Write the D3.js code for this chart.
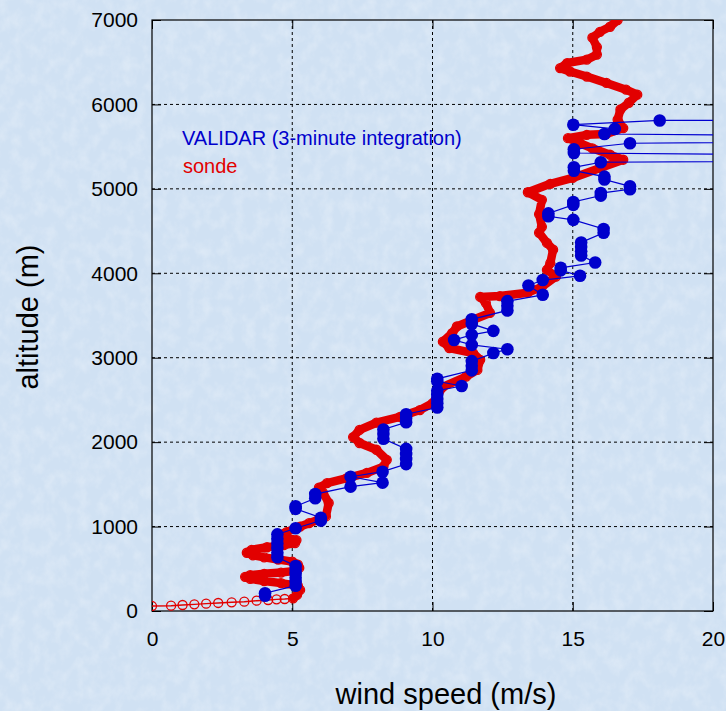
<!DOCTYPE html>
<html>
<head>
<meta charset="utf-8">
<script src="https://cdn.jsdelivr.net/npm/d3@7"></script>
<style>
body{margin:0;background:#d4e4f4;}
text{font-family:"Liberation Sans",Arial,sans-serif;}
</style>
</head>
<body>
<div id="chart-area"></div>
<script>
// sonde profile (wind speed m/s, altitude m)
var sondeSpeed=[0,0.68,1.09,1.51,1.93,2.36,2.84,3.29,3.73,4.14,4.44,4.73,5.03,
  5.17,5.28,5.2,4.6,4.0,3.5,3.32,3.5,4.0,4.6,5.1,5.25,5.2,5.0,4.5,4.0,3.6,3.38,3.55,4.1,4.7,5.1,5.15,4.8,4.5,4.8,
  5.28,5.6,5.93,6.2,6.3,6.1,5.95,6.24,6.95,7.66,8.25,8.37,8.0,7.4,7.17,7.4,8.0,8.84,9.55,10.0,10.15,10.37,
  11.2,11.6,11.7,11.45,10.6,10.37,10.7,10.87,11.45,12.05,11.9,11.7,12.4,13.4,13.9,14.4,14.08,14.2,14.3,14.08,
  13.8,13.9,13.8,13.9,13.4,14.2,15.0,16.0,16.8,16.33,15.7,15.26,14.83,15.5,16.2,16.8,16.6,16.7,17.0,17.3,
  16.9,16.2,15.5,14.9,14.55,14.8,15.5,15.86,15.86,15.7,15.97,16.33,16.6];
var sondeAlt=[59,63,71,79,87,95,103,110,122,130,138,142,150,
  190,250,300,330,355,380,405,425,440,455,475,510,550,585,610,635,660,690,725,755,780,805,840,870,900,935,
  1000,1040,1080,1120,1280,1400,1460,1515,1575,1635,1710,1790,1910,1990,2060,2145,2230,2300,2380,2460,2535,2655,
  2775,2855,2975,3055,3115,3190,3290,3370,3450,3530,3650,3720,3730,3770,3840,3960,4040,4120,4280,4360,
  4480,4550,4700,4870,4960,5060,5130,5250,5345,5404,5480,5540,5600,5640,5650,5720,5820,5940,6020,6115,
  6175,6255,6330,6390,6430,6490,6530,6590,6680,6790,6860,6920,7000];

// VALIDAR 3-minute integration (40 = off the chart)
var validarSpeed=[4.03,4.03,5.12,5.12,5.12,5.12,5.12,5.12,4.47,4.47,4.47,4.47,4.47,4.47,5.12,6.02,6.02,5.12,5.12,
  5.82,5.82,7.08,8.22,7.08,8.22,9.06,9.06,9.06,9.06,8.25,8.25,8.25,9.06,9.06,9.06,10.17,10.17,10.17,10.17,10.17,
  11.04,10.17,10.17,11.4,11.4,11.4,12.17,12.67,11.4,10.77,11.4,12.17,11.4,11.4,12.67,12.67,12.67,13.93,13.42,13.93,
  15.26,14.57,14.57,15.8,15.3,15.3,15.3,15.3,16.1,16.1,15.02,14.13,14.13,15.02,15.02,16.0,16.0,17.04,17.04,
  16.13,16.13,15.04,15.04,16.0,40,15.04,15.04,17.04,40,16.13,16.5,15.02,18.1,40];
var validarAlt=[180,210,300,345,395,440,490,533,636,690,745,800,855,908,980,1070,1105,1210,1240,
  1335,1385,1473,1520,1590,1650,1740,1800,1860,1920,2040,2095,2150,2235,2285,2330,2410,2460,2510,2560,2610,
  2665,2720,2750,2850,2905,2960,3055,3100,3152,3210,3270,3318,3400,3455,3560,3615,3670,3745,3855,3920,
  3970,4035,4065,4127,4210,4260,4310,4365,4480,4525,4633,4675,4710,4810,4845,4920,4950,4995,5030,
  5110,5145,5215,5255,5315,5360,5425,5470,5540,5590,5650,5710,5760,5810,5815];

var xTicks=[0,5,10,15,20];
var yTicks=[0,1000,2000,3000,4000,5000,6000,7000];

var margin={top:20,left:152,right:13,bottom:100};
var width=726-margin.left-margin.right;
var height=611-margin.top;

var svg=d3.select("#chart-area").append("svg").attr("width",726).attr("height",711);

//textured background
var defs=svg.append("defs");
var f=defs.append("filter").attr("id","tex").attr("x",0).attr("y",0).attr("width","100%").attr("height","100%");
f.append("feTurbulence").attr("type","fractalNoise").attr("baseFrequency","0.09 0.07").attr("numOctaves",3).attr("seed",11);
f.append("feColorMatrix").attr("type","matrix")
 .attr("values","0 0 0 0 1  0 0 0 0 1  0 0 0 0 1  1.4 0 0 0 -0.55");
defs.append("clipPath").attr("id","clip").append("rect").attr("width",width).attr("height",height);

svg.append("rect").attr("width",726).attr("height",711).attr("fill","#d0e1f3");
svg.append("rect").attr("width",726).attr("height",711).attr("filter","url(#tex)").attr("opacity",0.35);

var g=svg.append("g").attr("transform","translate("+margin.left+","+margin.top+")");

var x=d3.scaleLinear().domain([0,20]).range([0,width]);
var y=d3.scaleLinear().domain([0,7000]).range([height,0]);

//grid
g.selectAll(".gx").data(xTicks.slice(1,-1)).enter().append("line")
 .attr("x1",d=>x(d)).attr("x2",d=>x(d)).attr("y1",0).attr("y2",height)
 .attr("stroke","#000").attr("stroke-width",1).attr("stroke-dasharray","3,3");
g.selectAll(".gy").data(yTicks.slice(1,-1)).enter().append("line")
 .attr("y1",d=>y(d)).attr("y2",d=>y(d)).attr("x1",0).attr("x2",width)
 .attr("stroke","#000").attr("stroke-width",1).attr("stroke-dasharray","3,3");

//axes
var xAxisCall=d3.axisBottom(x).tickValues(xTicks).tickSizeInner(-9).tickSizeOuter(0).tickPadding(20).tickFormat(d3.format("d"));
var yAxisCall=d3.axisLeft(y).tickValues(yTicks).tickSizeInner(-9).tickSizeOuter(0).tickPadding(14).tickFormat(d3.format("d"));
g.append("g").attr("transform","translate(0,"+height+")").call(xAxisCall);
g.append("g").call(yAxisCall);
g.append("g").call(d3.axisTop(x).tickValues(xTicks).tickSizeInner(-9).tickSizeOuter(0).tickFormat(""));
g.append("g").attr("transform","translate("+width+",0)")
 .call(d3.axisRight(y).tickValues(yTicks).tickSizeInner(-9).tickSizeOuter(0).tickFormat(""));
g.selectAll(".domain").remove();
g.selectAll(".tick line").attr("stroke","#000");
g.selectAll(".tick text").style("font-size","21px").attr("fill","#000");

g.append("rect").attr("width",width).attr("height",height)
 .attr("fill","none").attr("stroke","#000").attr("stroke-width",1.2);

//sonde
var sonde=sondeSpeed.map((d,i)=>[d,sondeAlt[i]]);
var line=d3.line().x(d=>x(d[0])).y(d=>y(d[1]));
var plot=g.append("g").attr("clip-path","url(#clip)");
plot.append("path").attr("d",line(sonde)).attr("fill","none")
 .attr("stroke","#e20000").attr("stroke-width",1.4);
plot.append("path").attr("d",line(sonde.filter(d=>d[1]>=150))).attr("fill","none")
 .attr("stroke","#e20000").attr("stroke-width",8.5).attr("stroke-linejoin","round").attr("stroke-linecap","round");
plot.selectAll(".sonde").data(sonde).enter().append("circle")
 .attr("cx",d=>x(d[0])).attr("cy",d=>y(d[1])).attr("r",4.5)
 .attr("fill","none").attr("stroke","#e20000").attr("stroke-width",1.3);

//validar
var validar=validarSpeed.map((d,i)=>[d,validarAlt[i]]);
plot.append("path").attr("d",line(validar)).attr("fill","none")
 .attr("stroke","#0000d0").attr("stroke-width",1.2);
plot.selectAll(".val").data(validar).enter().append("circle")
 .attr("cx",d=>x(d[0])).attr("cy",d=>y(d[1])).attr("r",6.3)
 .attr("fill","#0000cc");

//legend
g.append("text").attr("x",30).attr("y",125).style("font-size","20px").attr("fill","#0000cc")
 .text("VALIDAR (3-minute integration)");
g.append("text").attr("x",31).attr("y",153).style("font-size","20px").attr("fill","#e20000")
 .text("sonde");

//labels
svg.append("text").attr("x",446).attr("y",704).attr("text-anchor","middle")
 .style("font-size","29px").text("wind speed (m/s)");
svg.append("text").attr("transform","translate(38,317) rotate(-90)").attr("text-anchor","middle")
 .style("font-size","29px").text("altitude (m)");
</script>
</body>
</html>
